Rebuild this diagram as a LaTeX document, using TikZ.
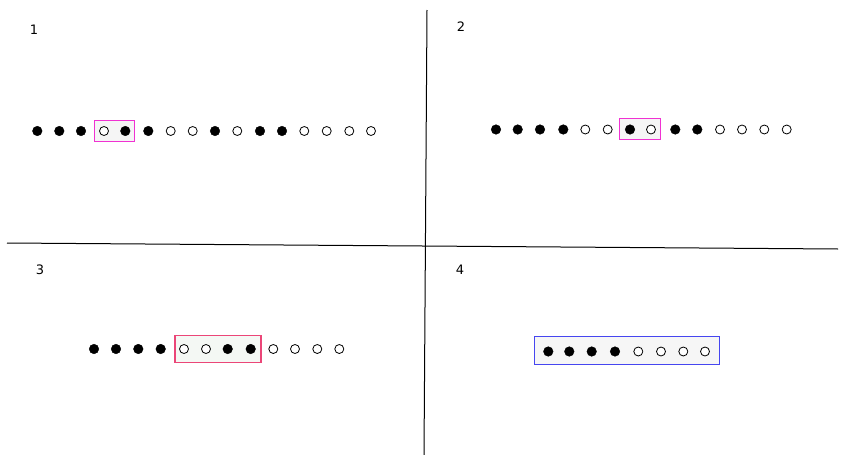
\documentclass[tikz,border=0pt]{standalone}
\usepackage{fontspec}
\setmainfont{DejaVu Sans}
\begin{document}
\begin{tikzpicture}[x=1pt,y=-1pt,
  full/.style={circle,fill=black,draw=black,line width=0.4pt,inner sep=0pt,minimum size=9.6pt},
  hollow/.style={circle,fill=white,draw=black,line width=0.8pt,inner sep=0pt,minimum size=9pt},
  frame/.style={rectangle,line width=1.1pt,inner sep=0pt},
  lbl/.style={font=\fontsize{13}{15}\selectfont,inner sep=0pt},
  axis/.style={line width=1pt,black}]
\useasboundingbox (0,0) rectangle (841,455);
\fill[white] (0,0) rectangle (841,455);
% axes
\coordinate (vt) at (427,10);
\coordinate (vb) at (424,455);
\coordinate (hl) at (7,243);
\coordinate (hr) at (838,249);
\draw[axis] (vt) -- (vb);
\draw[axis] (hl) -- (hr);
% labels
\node[lbl] (l1) at (34,29.5) {1};
\node[lbl] (l2) at (461,27) {2};
\node[lbl] (l3) at (40,269.5) {3};
\node[lbl] (l4) at (460,269.5) {4};
% frames
\node[frame,draw={rgb,255:red,240;green,50;blue,210},fill={rgb,255:red,245;green,245;blue,245},minimum width=40.3pt,minimum height=21pt] (b1) at (114.2,131.2) {};
\node[frame,draw={rgb,255:red,240;green,50;blue,210},fill={rgb,255:red,245;green,245;blue,245},minimum width=40.7pt,minimum height=21pt] (b2) at (639.7,128.8) {};
\node[frame,draw={rgb,255:red,235;green,70;blue,120},fill={rgb,255:red,244;green,248;blue,244},minimum width=86pt,minimum height=26.6pt] (b3) at (218,349) {};
\node[frame,draw={rgb,255:red,70;green,70;blue,240},fill={rgb,255:red,246;green,246;blue,246},minimum width=185.3pt,minimum height=27.6pt] (b4) at (626.7,350.5) {};
% row 1
\foreach \i/\x/\s in {1/37.3/full,2/59.3/full,3/81/full,4/104/hollow,5/125.3/full,6/148.3/full,7/170.7/hollow,8/192.7/hollow,9/215/full,10/237.3/hollow,11/260/full,12/282/full,13/304.3/hollow,14/326.7/hollow,15/349.3/hollow,16/371/hollow}
  \node[\s] (a\i) at (\x,131) {};
% row 2
\foreach \i/\x/\s in {1/496/full,2/517.7/full,3/540/full,4/563.3/full,5/585.3/hollow,6/607.7/hollow,7/630/full,8/651/hollow,9/675.3/full,10/697.3/full,11/720/hollow,12/742/hollow,13/764.3/hollow,14/786.7/hollow}
  \node[\s] (c\i) at (\x,129.5) {};
% row 3
\foreach \i/\x/\s in {1/94/full,2/116/full,3/138.3/full,4/160.7/full,5/184/hollow,6/206/hollow,7/227.7/full,8/250.7/full,9/273.3/hollow,10/295/hollow,11/317.3/hollow,12/339.3/hollow}
  \node[\s] (e\i) at (\x,349) {};
% row 4
\foreach \i/\x/\s in {1/548.3/full,2/569.3/full,3/591.7/full,4/615/full,5/638.3/hollow,6/661/hollow,7/683.3/hollow,8/705/hollow}
  \node[\s] (g\i) at (\x,351.5) {};
\end{tikzpicture}
\end{document}
